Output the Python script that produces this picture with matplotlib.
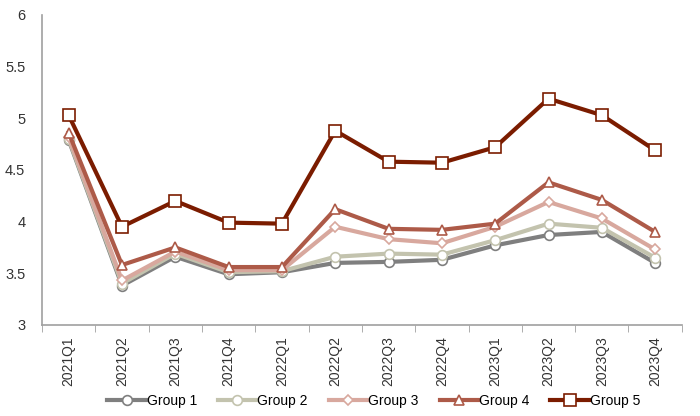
import matplotlib
matplotlib.use('Agg')
import matplotlib.pyplot as plt
import numpy as np

plt.rcParams['font.family'] = ['Liberation Sans', 'DejaVu Sans']

quarters = ['2021Q1', '2021Q2', '2021Q3', '2021Q4', '2022Q1', '2022Q2',
            '2022Q3', '2022Q4', '2023Q1', '2023Q2', '2023Q3', '2023Q4']
group1 = [4.79, 3.38, 3.66, 3.49, 3.51, 3.60, 3.61, 3.63, 3.77, 3.87, 3.90, 3.60]
group2 = [4.80, 3.40, 3.69, 3.51, 3.52, 3.66, 3.69, 3.68, 3.82, 3.98, 3.94, 3.65]
group3 = [4.82, 3.43, 3.71, 3.53, 3.53, 3.95, 3.83, 3.79, 3.95, 4.19, 4.03, 3.73]
group4 = [4.86, 3.58, 3.75, 3.56, 3.56, 4.12, 3.93, 3.92, 3.98, 4.38, 4.21, 3.90]
group5 = [5.03, 3.95, 4.20, 3.99, 3.98, 4.88, 4.58, 4.57, 4.72, 5.19, 5.03, 4.69]

series = [
    ('Group 1', group1, '#7f7f7f', 'o', 7),
    ('Group 2', group2, '#c3c3ae', 'o', 7),
    ('Group 3', group3, '#d8a89e', 'D', 5),
    ('Group 4', group4, '#ad5a48', '^', 7),
    ('Group 5', group5, '#7b1c00', 's', 8),
]

fig = plt.figure(figsize=(7, 4.16), dpi=100)
ax = fig.add_axes([0.06, 0.219, 0.914, 0.745])

x = np.arange(len(quarters))
for name, vals, col, mk, ms in series:
    ax.plot(x, vals, color=col, linewidth=3, marker=mk, markersize=ms,
            markerfacecolor='white', markeredgecolor=col, markeredgewidth=1.2,
            label=name)

ax.set_xlim(-0.5, len(quarters) - 0.5)
ax.set_ylim(3, 6)
ax.set_yticks([3, 3.5, 4, 4.5, 5, 5.5, 6])
ax.set_yticklabels(['3', '3.5', '4', '4.5', '5', '5.5', '6'])
ax.set_xticks(x)
ax.set_xticklabels(quarters, rotation=90)
ax.set_xticks(np.arange(-0.5, len(quarters)), minor=True)
ax.tick_params(axis='x', which='major', length=0, labelsize=10, pad=8, colors='#333333')
ax.tick_params(axis='x', which='minor', length=5, color='#a0a0a0', direction='out')
ax.tick_params(axis='y', length=0, labelsize=10.5, pad=12, colors='#333333')

for s in ['top', 'right']:
    ax.spines[s].set_visible(False)
for s in ['left', 'bottom']:
    ax.spines[s].set_color('#a0a0a0')
    ax.spines[s].set_linewidth(1.2)

fig.legend(loc='center', bbox_to_anchor=(0.534, 0.036), ncol=5, frameon=False,
           fontsize=10, handlelength=2.8, handletextpad=0.05, columnspacing=1.5,
           borderaxespad=0, borderpad=0)

fig.savefig('out.png', dpi=100)
